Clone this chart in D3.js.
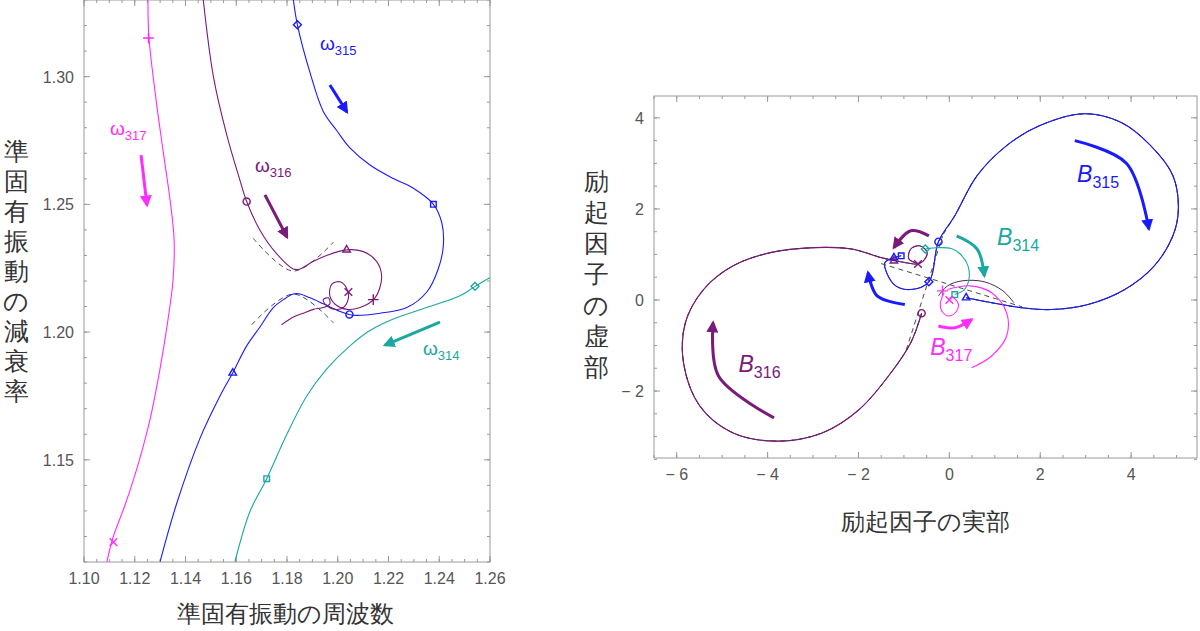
<!DOCTYPE html>
<html><head><meta charset="utf-8">
<script src="https://cdn.jsdelivr.net/npm/d3@7"></script>
<style>body{margin:0;background:#fff}text{font-family:"Liberation Sans",Arial,sans-serif}</style>
</head><body><svg id="c" width="1200" height="631"></svg>
<script>
// left panel: quasi-normal mode trajectories (frequency, damping)
const w317 = [[1.1252,1.330],[1.1256,1.3153],[1.1284,1.291],[1.1311,1.2714],[1.1339,1.2518],[1.1355,1.2362],[1.1351,1.2205],[1.1331,1.2049],[1.1299,1.1853],[1.126,1.1657],[1.1213,1.1481],[1.1162,1.1324],[1.1114,1.1195],[1.109,1.110]];
const w315 = [[1.1825,1.3301],[1.1841,1.3203],[1.1891,1.3015],[1.1943,1.2864],[1.1996,1.2789],[1.2048,1.2721],[1.2127,1.2654],[1.2219,1.2601],[1.2298,1.2563],[1.2377,1.25],[1.241,1.2428],[1.2416,1.2337],[1.2396,1.2247],[1.2351,1.2157],[1.2272,1.2096],[1.2167,1.2074],[1.2061,1.2066],[1.2009,1.2081],[1.1943,1.2111],[1.1891,1.2134],[1.1851,1.2149],[1.1825,1.2149],[1.1786,1.2127],[1.1746,1.2096],[1.1694,1.2021],[1.1641,1.1946],[1.1586,1.184],[1.1536,1.175],[1.1457,1.1584],[1.1365,1.1328],[1.13,1.1102]];
const w316 = [[1.147,1.3301],[1.151,1.30],[1.1562,1.2774],[1.1615,1.2593],[1.1641,1.2511],[1.1694,1.2398],[1.1759,1.2307],[1.1825,1.2247],[1.1851,1.2247],[1.1904,1.2277],[1.1956,1.23],[1.2035,1.2322],[1.2101,1.2315],[1.2153,1.2277],[1.2173,1.2217],[1.2147,1.2134],[1.2088,1.2096],[1.2035,1.2089],[1.1996,1.2104],[1.1969,1.2142],[1.1976,1.2187],[1.2009,1.2197],[1.2035,1.2172],[1.2042,1.2134],[1.2022,1.2096],[1.1989,1.2089],[1.1956,1.2104],[1.1943,1.2127],[1.1963,1.2134],[1.1969,1.2111],[1.1943,1.2096],[1.1904,1.2089],[1.1864,1.2074],[1.1825,1.2059],[1.1779,1.2029]];
const w314 = [[1.1595,1.1102],[1.1654,1.1298],[1.172,1.1426],[1.1799,1.1599],[1.1878,1.175],[1.1956,1.1855],[1.2048,1.1946],[1.2127,1.2006],[1.2219,1.2051],[1.235,1.2096],[1.2482,1.2142],[1.2541,1.2179],[1.2607,1.2217]];
const wDash = [[[1.1667,1.2367],[1.1825,1.2239],[1.1983,1.2352]],[[1.1661,1.2029],[1.1825,1.2149],[1.1983,1.2036]]];
const wMarks = [["diamond",1.1841,1.3203,"w315"],["square",1.2377,1.25,"w315"],["circle",1.2046,1.2069,"w315"],["triangle",1.1586,1.184,"w315"],
  ["circle",1.1641,1.2511,"w316"],["triangle",1.2035,1.2322,"w316"],["plus",1.214,1.2127,"w316"],["times",1.2042,1.2157,"w316"],
  ["square",1.172,1.1426,"w314"],["diamond",1.2541,1.2179,"w314"],["plus",1.1254,1.3151,"w317"],["times",1.1116,1.1178,"w317"]];
const wArrows = [["w315",[[1.1969,1.2967],[1.2036,1.2862]]],["w317",[[1.1225,1.2693],[1.1248,1.2497]]],["w316",[[1.1713,1.2537],[1.1800,1.2372]]],["w314",[[1.2403,1.2039],[1.2186,1.1949]]]];
const wLabels = [["w315","315",1.1930,1.3104],["w317","317",1.1102,1.2771],["w316","316",1.1674,1.2627],["w314","314",1.2336,1.1910]];
const xTicksL = [1.10,1.12,1.14,1.16,1.18,1.20,1.22,1.24,1.26];
const yTicksL = [1.15,1.20,1.25,1.30];

// right panel: excitation factors (real, imaginary)
const b315 = [[-1.06,0.97],[-1.22,0.93],[-1.42,0.82],[-1.38,0.60],[-1.18,0.31],[-0.85,0.23],[-0.45,0.40],[-0.24,1.28],[0.12,1.85],[0.61,2.73],[1.26,3.39],[1.99,3.83],[2.97,4.09],[3.78,3.90],[4.43,3.39],[4.92,2.73],[5.04,2.00],[4.92,1.41],[4.51,0.75],[3.86,0.23],[3.05,-0.10],[2.24,-0.21],[1.59,-0.17],[0.93,-0.06],[0.37,0.05]];
const b316 = [[-0.61,-0.29],[-0.85,-0.94],[-1.34,-1.67],[-1.99,-2.41],[-2.80,-2.92],[-3.78,-3.10],[-4.76,-2.92],[-5.49,-2.33],[-5.85,-1.38],[-5.81,-0.50],[-5.41,0.23],[-4.76,0.75],[-3.94,1.04],[-2.97,1.15],[-2.15,1.12],[-1.50,0.93],[-1.18,0.86],[-0.69,0.79],[-0.89,0.90],[-0.85,1.12],[-0.65,1.19],[-0.49,1.04],[-0.57,0.86],[-0.69,0.79]];
const b314 = [[-0.53,1.12],[-0.24,1.15],[0.04,1.13],[0.24,1.01],[0.41,0.75],[0.43,0.45],[0.33,0.23],[0.12,0.12]];
const b317 = [[-0.04,0.23],[0.45,0.31],[0.93,0.16],[1.26,-0.28],[1.26,-0.79],[0.93,-1.23],[0.49,-1.49]];
const b317loop = [[-0.12,0.16],[-0.20,-0.10],[-0.14,-0.28],[0,-0.35],[0.16,-0.24],[0.19,-0.06],[0.04,0.07],[0,0]];
const bArc = [[-0.24,0.09],[-0.04,0.31],[0.28,0.42],[0.77,0.40],[1.18,0.20],[1.42,-0.06]];
const bDash = [[[-0.95,-1.1],[-0.15,1.4]],[[-1.5,0.8],[1.6,-0.15]]];
const bMarks = [["circle",-0.24,1.28,"b315"],["diamond",-0.45,0.40,"b315"],["triangle",-1.22,0.93,"b315"],["square",-1.06,0.97,"b315"],["triangle",0.37,0.05,"b315"],
  ["circle",-0.61,-0.29,"b316"],["triangle",-1.22,0.86,"b316"],["times",-0.69,0.79,"b316"],["diamond",-0.53,1.12,"b314"],["square",0.12,0.12,"b314"],["times",0,0,"b317"],["plus",-0.15,0.2,"b317"]];
const bArrows = [["b315",[[2.76,3.50],[3.9,3.0],[4.39,1.56]]],["b316",[[-3.86,-2.59],[-5.08,-1.67],[-5.20,-0.50]]],["b314",[[0.16,1.41],[0.61,1.12],[0.77,0.53]]],
  ["b316",[[-0.45,1.41],[-0.85,1.52],[-1.22,1.15]]],["b315",[[-0.98,-0.10],[-1.59,0.09],[-1.79,0.60]]],["b317",[[-0.24,-0.57],[0.12,-0.61],[0.49,-0.43]]]];
const bLabels = [["b315","315",2.81,2.6],["b314","314",1.05,1.21],["b316","316",-4.64,-1.58],["b317","317",-0.42,-1.21]];
const xTicksR = [-6,-4,-2,0,2,4];
const yTicksR = [-2,0,2,4];

const col = {w315:"#1a1aff",b315:"#1a1aff",w316:"#7a1a7a",b316:"#7a1a7a",w317:"#ff2cff",b317:"#ff2cff",w314:"#1aa8a0",b314:"#1aa8a0"};
const svg = d3.select("#c");
const defs = svg.append("defs");
Object.entries(col).forEach(([k,c]) => {
  defs.append("marker").attr("id","ah-"+k).attr("viewBox","0 0 10 10").attr("refX",8).attr("refY",5)
    .attr("markerWidth",4).attr("markerHeight",4).attr("orient","auto")
    .append("path").attr("d","M0,0L10,5L0,10z").attr("fill",c);
});
const symType = {diamond:d3.symbolDiamond2,square:d3.symbolSquare2,circle:d3.symbolCircle,triangle:d3.symbolTriangle2,plus:d3.symbolPlus,times:d3.symbolTimes};

function frame(g, x, y, xt, yt, xMinor, yMinor, fmt) {
  const [x0,x1] = x.range(), [y0,y1] = y.range();
  g.append("rect").attr("x",x0).attr("y",y1).attr("width",x1-x0).attr("height",y0-y1).attr("fill","none").attr("stroke","#999");
  const tk = (vals, len, horiz) => vals.forEach(v => {
    if (horiz) { [y0,y1].forEach((yy,i)=>g.append("line").attr("x1",x(v)).attr("x2",x(v)).attr("y1",yy).attr("y2",yy+(i?len:-len)).attr("stroke","#999")); }
    else { [x0,x1].forEach((xx,i)=>g.append("line").attr("y1",y(v)).attr("y2",y(v)).attr("x1",xx).attr("x2",xx+(i?-len:len)).attr("stroke","#999")); }
  });
  tk(xMinor, 3, true); tk(xt, 6, true);
  tk(yMinor, 3, false); tk(yt, 6, false);
  xt.forEach(v => g.append("text").attr("x",x(v)).attr("y",y0+22).attr("text-anchor","middle").attr("font-size",16).attr("fill","#555").text(fmt.x(v)));
  yt.forEach(v => g.append("text").attr("x",x0-10).attr("y",y(v)+6).attr("text-anchor","end").attr("font-size",16).attr("fill","#555").text(fmt.y(v)));
}
function vlabel(txt, x, y0, step) {
  [...txt].forEach((ch,i)=>svg.append("text").attr("x",x).attr("y",y0+i*step).attr("text-anchor","middle")
    .attr("font-family","Noto Sans CJK JP").attr("font-size",25).attr("fill","#333").text(ch));
}
function draw(g, x, y, curves, dashes, marks, arrows, labels, greek) {
  const line = d3.line().x(d=>x(d[0])).y(d=>y(d[1])).curve(d3.curveCatmullRom.alpha(0.5));
  const cl = g.append("g");
  dashes.forEach(d => cl.append("path").attr("d",d3.line().x(p=>x(p[0])).y(p=>y(p[1])).curve(d3.curveCatmullRom)(d)).attr("fill","none").attr("stroke","#333").attr("stroke-dasharray","5,4").attr("stroke-width",0.9));
  curves.forEach(([k,d,wd]) => cl.append("path").attr("d",line(d)).attr("fill","none").attr("stroke",col[k] || k).attr("stroke-width",wd||1.1));
  marks.forEach(([t,a,b,k]) => cl.append("path").attr("d",d3.symbol(symType[t],40)()).attr("transform",`translate(${x(a)},${y(b)})`).attr("fill","none").attr("stroke",col[k]).attr("stroke-width",1.4));
  arrows.forEach(([k,d]) => cl.append("path").attr("d",line(d)).attr("fill","none").attr("stroke",col[k]).attr("stroke-width",3).attr("marker-end",`url(#ah-${k})`));
  labels.forEach(([k,sub,a,b]) => {
    const t = cl.append("text").attr("x",x(a)).attr("y",y(b)).attr("fill",col[k]).attr("font-size",greek?19:23);
    t.append("tspan").text(greek?"ω":"B").attr("font-style",greek?null:"italic");
    t.append("tspan").attr("dy",greek?5:6).attr("font-size",greek?13:16).text(sub);
  });
}

// left panel
const xL = d3.scaleLinear().domain([1.10,1.26]).range([84,490]);
const yL = d3.scaleLinear().domain([1.110,1.330]).range([562,0]);
const gL = svg.append("g");
frame(gL, xL, yL, xTicksL, yTicksL, d3.range(1.10,1.2601,0.005), d3.range(1.11,1.331,0.01), {x:d3.format(".2f"),y:d3.format(".2f")});
gL.append("clipPath").attr("id","cl").append("rect").attr("x",84).attr("y",0).attr("width",406).attr("height",562);
draw(gL.append("g").attr("clip-path","url(#cl)"), xL, yL, [["w317",w317],["w315",w315],["w316",w316],["w314",w314]], wDash, wMarks, wArrows, wLabels, true);
vlabel("準固有振動の減衰率", 16, 160, 30);
svg.append("text").attr("x",285).attr("y",622).attr("text-anchor","middle").attr("font-family","Noto Sans CJK JP").attr("font-size",24).attr("fill","#333").text("準固有振動の周波数");

// right panel
const xR = d3.scaleLinear().domain([-6.5,5.45]).range([654,1197]);
const yR = d3.scaleLinear().domain([-3.47,4.48]).range([458,96]);
const gR = svg.append("g");
frame(gR, xR, yR, xTicksR, yTicksR, d3.range(-6.5,5.45,0.5), d3.range(-3.5,4.46,0.5), {x:v=>v<0?"− "+(-v):v,y:v=>v<0?"− "+(-v):v});
draw(gR, xR, yR, [["#222",b316,0.8],["#222",b315,0.8],["#3a1040",bArc,0.9],["b316",b316],["b315",b315],["b314",b314],["b317",b317],["b317",b317loop]],
  bDash.concat([b315.slice(7), b316.slice(0,17)]), bMarks, bArrows, bLabels, false);
vlabel("励起因子の虚部", 596, 190, 31);
svg.append("text").attr("x",925).attr("y",530).attr("text-anchor","middle").attr("font-family","Noto Sans CJK JP").attr("font-size",24).attr("fill","#333").text("励起因子の実部");
</script></body></html>
